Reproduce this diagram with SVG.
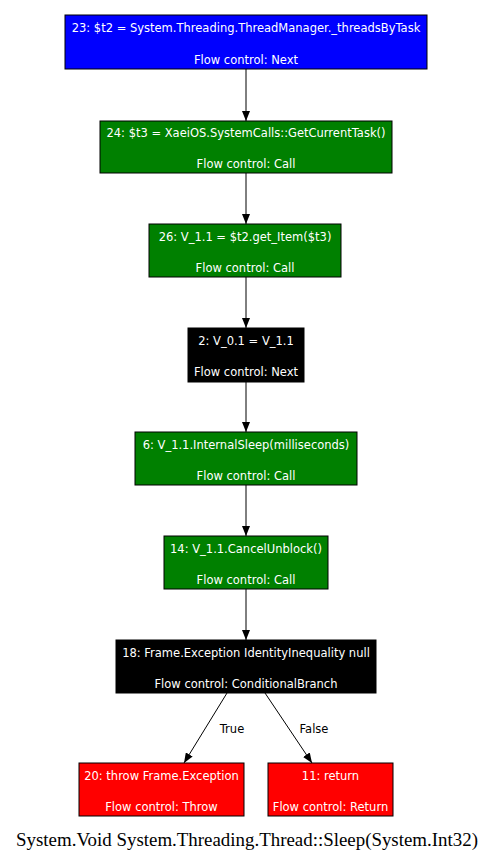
<svg xmlns="http://www.w3.org/2000/svg" width="489" height="860" viewBox="0 0 489 860">
<style>
.n rect{stroke:#000;stroke-width:1}
.n text{font-family:"DejaVu Sans",Verdana,sans-serif;font-size:11.5px;fill:#fff;text-anchor:middle}
.e line{stroke:#000;stroke-width:1}
.lbl{font-family:"DejaVu Sans",Verdana,sans-serif;font-size:11.5px;fill:#000;text-anchor:middle}
.title{font-family:"Liberation Serif","Times New Roman",serif;font-size:18.9px;fill:#000;text-anchor:middle}
</style>
<defs>
<marker id="ah" viewBox="0 0 10 8" refX="10" refY="4" markerWidth="10" markerHeight="8" markerUnits="userSpaceOnUse" orient="auto">
<path d="M0,0 L10,4 L0,8 Z" fill="#000"/>
</marker>
</defs>
<rect width="489" height="860" fill="#fff"/>
<g id="edges" class="e">
<line x1="246" y1="69" x2="246" y2="121" marker-end="url(#ah)"/>
<line x1="246" y1="173" x2="246" y2="224" marker-end="url(#ah)"/>
<line x1="246" y1="277" x2="246" y2="328" marker-end="url(#ah)"/>
<line x1="246" y1="382" x2="246" y2="432" marker-end="url(#ah)"/>
<line x1="246" y1="485" x2="246" y2="536" marker-end="url(#ah)"/>
<line x1="246" y1="589" x2="246" y2="640" marker-end="url(#ah)"/>
<line x1="227" y1="693" x2="184" y2="763" marker-end="url(#ah)"/>
<line x1="265" y1="693" x2="312" y2="763" marker-end="url(#ah)"/>
<text class="lbl" x="232" y="733">True</text>
<text class="lbl" x="314" y="733">False</text>
</g>
<g id="n23" class="n">
<rect x="65" y="15" width="362" height="54" fill="#0000ff"/>
<text x="246" y="32">23: $t2 = System.Threading.ThreadManager._threadsByTask</text>
<text x="246" y="64">Flow control: Next</text>
</g>
<g id="n24" class="n">
<rect x="100" y="121" width="292" height="52" fill="#008000"/>
<text x="246" y="137">24: $t3 = XaeiOS.SystemCalls::GetCurrentTask()</text>
<text x="246" y="168">Flow control: Call</text>
</g>
<g id="n26" class="n">
<rect x="149" y="224" width="192" height="53" fill="#008000"/>
<text x="245" y="241">26: V_1.1 = $t2.get_Item($t3)</text>
<text x="245" y="272">Flow control: Call</text>
</g>
<g id="n2" class="n">
<rect x="188" y="328" width="116" height="54" fill="#000"/>
<text x="246" y="345">2: V_0.1 = V_1.1</text>
<text x="246" y="376">Flow control: Next</text>
</g>
<g id="n6" class="n">
<rect x="135" y="432" width="222" height="53" fill="#008000"/>
<text x="246" y="449">6: V_1.1.InternalSleep(milliseconds)</text>
<text x="246" y="480">Flow control: Call</text>
</g>
<g id="n14" class="n">
<rect x="164" y="536" width="164" height="53" fill="#008000"/>
<text x="246" y="553">14: V_1.1.CancelUnblock()</text>
<text x="246" y="584">Flow control: Call</text>
</g>
<g id="n18" class="n">
<rect x="116" y="640" width="260" height="53" fill="#000"/>
<text x="246" y="657">18: Frame.Exception IdentityInequality null</text>
<text x="246" y="688">Flow control: ConditionalBranch</text>
</g>
<g id="n20" class="n">
<rect x="79" y="763" width="165" height="53" fill="#ff0000"/>
<text x="161.5" y="780">20: throw Frame.Exception</text>
<text x="161.5" y="811">Flow control: Throw</text>
</g>
<g id="n11" class="n">
<rect x="268" y="763" width="125" height="53" fill="#ff0000"/>
<text x="330.5" y="780">11: return</text>
<text x="330.5" y="811">Flow control: Return</text>
</g>
<text class="title" x="247" y="846">System.Void System.Threading.Thread::Sleep(System.Int32)</text>
</svg>
